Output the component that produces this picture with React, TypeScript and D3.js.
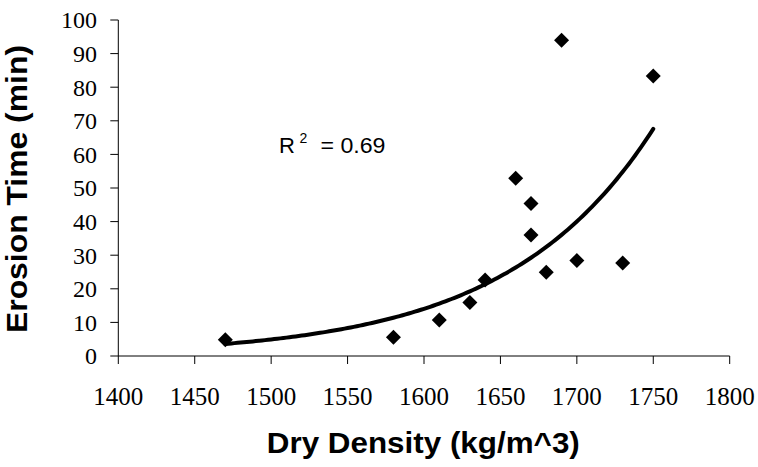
import React from "react";
import * as d3 from "d3";

const density = [1470, 1580, 1610, 1630, 1640, 1660, 1670, 1670, 1680, 1690, 1700, 1730, 1750];
const erosionTime = [4.8, 5.6, 10.7, 15.9, 22.6, 52.9, 45.4, 36.0, 24.9, 94.0, 28.4, 27.7, 83.3];
const xTicks = [1400, 1450, 1500, 1550, 1600, 1650, 1700, 1750, 1800];
const yTicks = [0, 10, 20, 30, 40, 50, 60, 70, 80, 90, 100];
// trendline end values (exponential trendline)
const trendX = [1470, 1750];
const trendY = [3.6, 67.6];
const rSquaredLabel = "0.69";

export default function App() {
  const W = 758, H = 467;
  const x = d3.scaleLinear().domain([1400, 1800]).range([118.3, 729.7]);
  const y = d3.scaleLinear().domain([0, 100]).range([356, 20]);

  const b = Math.log(trendY[1] / trendY[0]) / (trendX[1] - trendX[0]);
  const trendPts = d3.range(trendX[0], trendX[1] + 0.001, 2).map((v) => [v, trendY[0] * Math.exp(b * (v - trendX[0]))] as [number, number]);
  const line = d3.line<[number, number]>().x((d) => x(d[0])).y((d) => y(d[1])).curve(d3.curveMonotoneX);

  const diamond = (cx: number, cy: number, r: number) => `M${cx},${cy - r}L${cx + r},${cy}L${cx},${cy + r}L${cx - r},${cy}Z`;
  const sans = "'Liberation Sans', Arial, sans-serif";
  const serif = "'Liberation Serif', 'Times New Roman', serif";

  return (
    <svg width={W} height={H} style={{ position: "absolute", left: 0, top: 0 }}>
      <rect width={W} height={H} fill="#fff" />
      {/* axes */}
      <line x1={x(1400)} x2={x(1800)} y1={y(0)} y2={y(0)} stroke="#000" strokeWidth={1} />
      <line x1={x(1400)} x2={x(1400)} y1={y(0)} y2={y(100)} stroke="#000" strokeWidth={1} />
      {xTicks.map((t) => (
        <g key={"x" + t}>
          <line x1={x(t)} x2={x(t)} y1={y(0)} y2={y(0) + 8} stroke="#000" />
          <text x={x(t)} y={405} textAnchor="middle" fontFamily={serif} fontSize={25} fill="#000">{t}</text>
        </g>
      ))}
      {yTicks.map((t) => (
        <g key={"y" + t}>
          <line x1={x(1400) - 8} x2={x(1400)} y1={y(t)} y2={y(t)} stroke="#000" />
          <text x={97} y={y(t) + 8.3} textAnchor="end" fontFamily={serif} fontSize={24} fill="#000">{t}</text>
        </g>
      ))}
      {/* trendline */}
      <path d={line(trendPts) || ""} fill="none" stroke="#000" strokeWidth={4} strokeLinecap="round" />
      {/* points */}
      {density.map((d, i) => (
        <path key={i} d={diamond(x(d), y(erosionTime[i]), 7.5)} fill="#000" />
      ))}
      {/* R2 label */}
      <text y={153} fontFamily={sans} fontSize={22} fill="#000">
        <tspan x={279}>R</tspan>
        <tspan x={299.5} y={143} fontSize={14}>2</tspan>
        <tspan x={320.5} y={153} textLength={65} lengthAdjust="spacingAndGlyphs">{"= " + rSquaredLabel}</tspan>
      </text>
      {/* titles */}
      <text x={423.3} y={453} textAnchor="middle" fontFamily={sans} fontWeight="bold" fontSize={30} fill="#000" textLength={313} lengthAdjust="spacingAndGlyphs">Dry Density (kg/m^3)</text>
      <text transform="translate(27,189) rotate(-90)" textAnchor="middle" fontFamily={sans} fontWeight="bold" fontSize={29} fill="#000" textLength={288} lengthAdjust="spacingAndGlyphs">Erosion Time (min)</text>
    </svg>
  );
}
